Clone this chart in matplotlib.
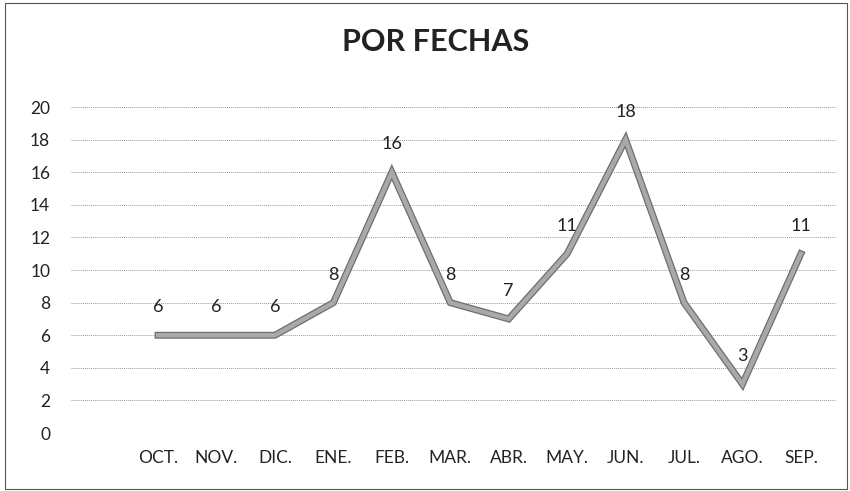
import matplotlib.pyplot as plt
import matplotlib.patheffects as pe
from matplotlib.patches import Rectangle

meses   = ["OCT.", "NOV.", "DIC.", "ENE.", "FEB.", "MAR.", "ABR.", "MAY.", "JUN.", "JUL.", "AGO.", "SEP."]
valores = [6, 6, 6, 8, 16, 8, 7, 11, 18, 8, 3, 11]
y_ticks = [0, 2, 4, 6, 8, 10, 12, 14, 16, 18, 20]

plt.rcParams['font.family'] = ['Lato', 'DejaVu Sans']

fig = plt.figure(figsize=(8.5, 4.91), dpi=100)
ax  = fig.add_axes([0.0835, 0.118, 0.900, 0.664])

x = list(range(len(meses)))
ax.plot(x, valores, color='#a9a9a9', linewidth=3.2, solid_joinstyle='miter',
        path_effects=[pe.Stroke(linewidth=5, foreground='#6e6e6e'), pe.Normal()], zorder=3)

for xi, v in zip(x, valores):
    ax.annotate(str(v), (xi, v), xytext=(0, 20), textcoords='offset points',
                ha='center', va='center', fontsize=13, color='#222222', zorder=4)

ax.set_xlim(-1.49, 11.6)
ax.set_ylim(0, 20)
ax.set_yticks(y_ticks)
ax.set_xticks(x)
ax.set_xticklabels(meses)
ax.tick_params(axis='both', length=0, labelsize=12.5, labelcolor='#222222')
ax.tick_params(axis='y', pad=15)
ax.tick_params(axis='x', pad=12)
for s in ax.spines.values():
    s.set_visible(False)
ax.grid(axis='y', color='#9c9c9c', linestyle=(0, (1, 1)), linewidth=0.7)
ax.set_axisbelow(True)

fig.text(436 / 850, 1 - 42 / 491, "POR FECHAS", ha='center', va='center',
         fontsize=22, fontweight='bold', color='#222222')

# borde del area del grafico
fig.add_artist(Rectangle((0.006, 0.004), 0.99, 0.99, transform=fig.transFigure,
                         fill=False, edgecolor='#555555', linewidth=0.8))

plt.savefig("out.png", dpi=100)
